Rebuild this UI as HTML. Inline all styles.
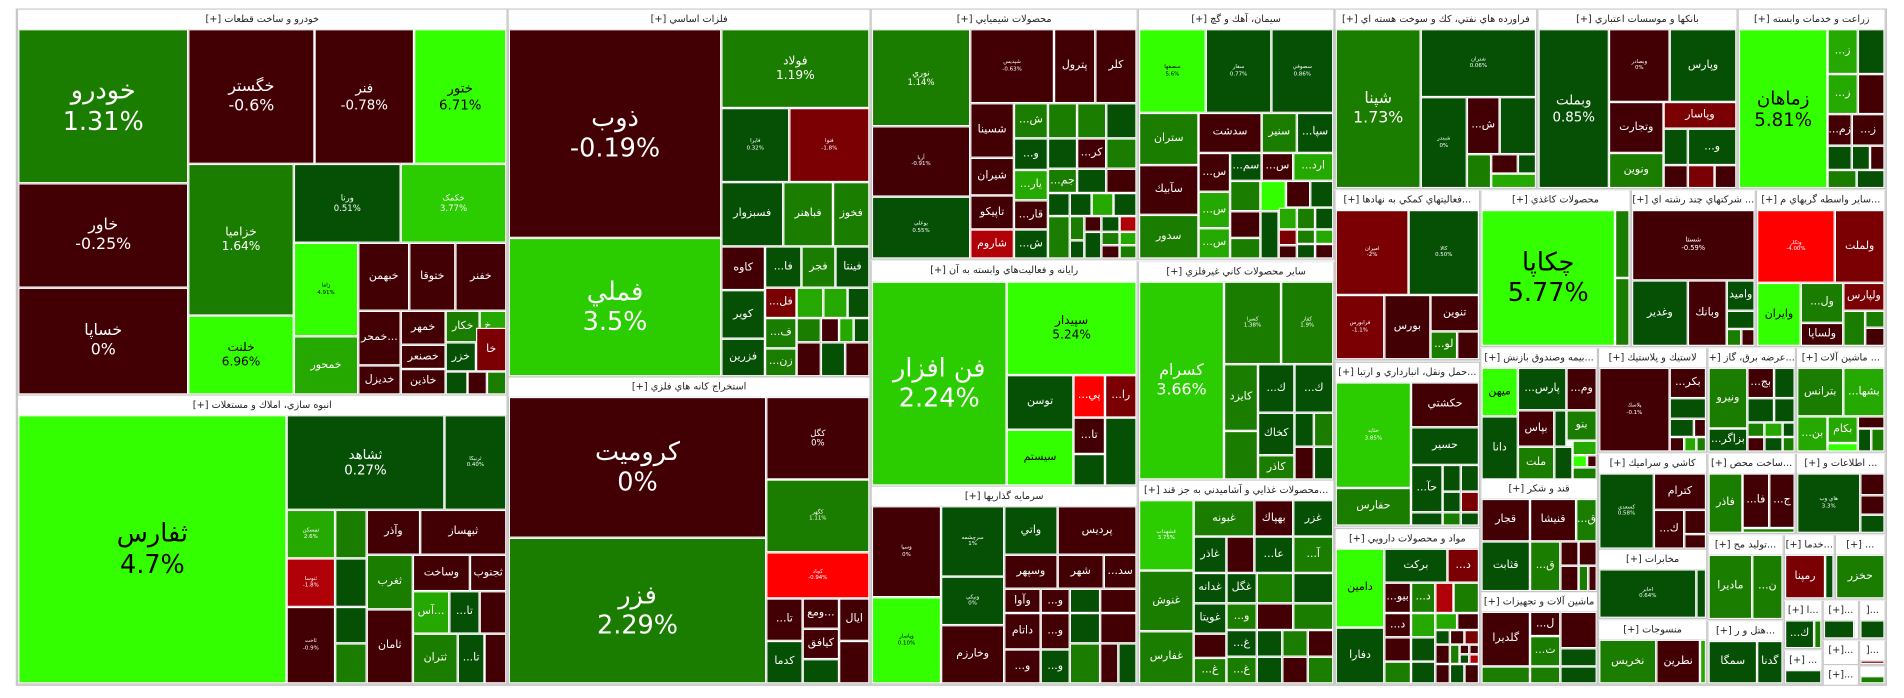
<!DOCTYPE html>
<html><head><meta charset="utf-8">
<style>
html,body{margin:0;padding:0;background:#fff;width:1904px;height:698px;overflow:hidden}
.r{position:absolute;left:0;top:0;width:1568px;height:575px;transform:scale(1.214286,1.2139);transform-origin:0 0;font-family:"DejaVu Sans","Liberation Sans",sans-serif}
.t{position:absolute;box-sizing:border-box;border:1px solid #fff;display:flex;align-items:center;justify-content:center;text-align:center;color:#fff;overflow:hidden;font-size:9px;line-height:1.2;white-space:nowrap}
.h{position:absolute;box-sizing:border-box;background:#fff;color:#222;font-size:8px;text-align:center;line-height:16px;height:16px;overflow:hidden;white-space:nowrap}
.g{position:absolute;box-sizing:border-box;border:1px solid #c8c8c8;background:#fff}
.s{font-size:4.5px}
.b{font-size:21px}
.m{font-size:13px}
.DR{background:#430004}.DG{background:#055005}.G{background:#1b7d00}.MG{background:#25a800}.LG{background:#2bcc00}.BG{background:#33ff00;color:#000}.R{background:#7a0004}.RR{background:#b00008}.BR{background:#ff0000}
</style></head><body><div class="r">
<div class="g" style="left:13px;top:7px;width:1541px;height:558px;background:#eee"></div>

<!-- G1 -->
<div class="g" style="left:14px;top:8px;width:404px;height:318px"></div>
<div class="h" dir="rtl" style="left:15px;top:8px;width:402px">خودرو و ساخت قطعات [+]</div>
<div class="t G b" style="left:15px;top:24px;width:140px;height:127px">خودرو<br>1.31%</div>
<div class="t DR m" style="left:15px;top:151px;width:140px;height:86px">خاور<br>-0.25%</div>
<div class="t DR m" style="left:15px;top:237px;width:140px;height:88px">خساپا<br>0%</div>
<div class="t DR m" style="left:155px;top:24px;width:104px;height:111px">خگستر<br>-0.6%</div>
<div class="t DR" style="left:259px;top:24px;width:82px;height:111px;font-size:11px">فنر<br>-0.78%</div>
<div class="t BG" style="left:341px;top:24px;width:76px;height:111px;font-size:11px">ختور<br>6.71%</div>
<div class="t G" style="left:155px;top:135px;width:87px;height:125px;font-size:10px">خزامیا<br>1.64%</div>
<div class="t DG" style="left:242px;top:135px;width:88px;height:65px;font-size:7px">ورنا<br>0.51%</div>
<div class="t LG" style="left:330px;top:135px;width:87px;height:65px;font-size:7px">خکمک<br>3.77%</div>
<div class="t BG" style="left:155px;top:260px;width:87px;height:65px;font-size:10px">خلنت<br>6.96%</div>
<div class="t BG s" style="left:242px;top:200px;width:53px;height:77px">زاما<br>4.91%</div>
<div class="t MG" style="left:242px;top:277px;width:53px;height:48px">خمحور</div>
<div class="t DR" style="left:295px;top:200px;width:42px;height:56px">خبهمن</div>
<div class="t DR" style="left:337px;top:200px;width:38px;height:56px">ختوقا</div>
<div class="t DR" style="left:375px;top:200px;width:42px;height:56px">خفنر</div>
<div class="t DR" style="left:295px;top:256px;width:35px;height:45px">خمحر...</div>
<div class="t DR" style="left:330px;top:256px;width:37px;height:28px">خمهر</div>
<div class="t G" style="left:367px;top:256px;width:28px;height:26px">خكار</div>
<div class="t MG" style="left:395px;top:256px;width:22px;height:26px">خ...</div>
<div class="t DR" style="left:330px;top:284px;width:37px;height:20px">خصنعر</div>
<div class="t DG" style="left:367px;top:282px;width:25px;height:24px">خزر</div>
<div class="t R" style="left:392px;top:270px;width:25px;height:36px">خا</div>
<div class="t DR" style="left:295px;top:301px;width:35px;height:24px">خديزل</div>
<div class="t DR" style="left:330px;top:304px;width:37px;height:21px">خاذين</div>
<div class="t DG" style="left:367px;top:306px;width:18px;height:19px"></div>
<div class="t DR" style="left:385px;top:306px;width:16px;height:19px"></div>
<div class="t G" style="left:401px;top:306px;width:16px;height:19px"></div>

<!-- G2 -->
<div class="g" style="left:14px;top:326px;width:404px;height:238px"></div>
<div class="h" dir="rtl" style="left:15px;top:326px;width:402px">انبوه سازي، املاك و مستغلات [+]</div>
<div class="t BG b" style="left:15px;top:342px;width:221px;height:221px">ثفارس<br>4.7%</div>
<div class="t DG" style="left:236px;top:342px;width:130px;height:78px;font-size:11px">ثشاهد<br>0.27%</div>
<div class="t DG s" style="left:366px;top:342px;width:51px;height:78px">ثرنيكا<br>0.40%</div>
<div class="t MG s" style="left:236px;top:420px;width:40px;height:40px">ثمسكن<br>2.6%</div>
<div class="t G" style="left:276px;top:420px;width:26px;height:40px"></div>
<div class="t RR s" style="left:236px;top:460px;width:40px;height:40px">ثنوسا<br>-1.8%</div>
<div class="t DG" style="left:276px;top:460px;width:26px;height:40px"></div>
<div class="t DR s" style="left:236px;top:500px;width:40px;height:63px">ثاخت<br>-0.9%</div>
<div class="t DG" style="left:276px;top:500px;width:26px;height:30px"></div>
<div class="t G" style="left:276px;top:530px;width:26px;height:33px"></div>
<div class="t DR" style="left:302px;top:420px;width:44px;height:37px">وآذر</div>
<div class="t DR" style="left:346px;top:420px;width:71px;height:37px">ثبهساز</div>
<div class="t G" style="left:302px;top:457px;width:38px;height:45px">ثغرب</div>
<div class="t DR" style="left:340px;top:457px;width:47px;height:30px">وساخت</div>
<div class="t DR" style="left:387px;top:457px;width:30px;height:30px">ثجنوب</div>
<div class="t DR" style="left:302px;top:502px;width:38px;height:61px">ثامان</div>
<div class="t MG" style="left:340px;top:487px;width:30px;height:35px">آس...</div>
<div class="t DG" style="left:370px;top:487px;width:25px;height:35px">...تا</div>
<div class="t DR" style="left:395px;top:487px;width:22px;height:35px"></div>
<div class="t G" style="left:340px;top:522px;width:37px;height:41px">ثتران</div>
<div class="t DG" style="left:377px;top:522px;width:22px;height:41px">...تا</div>
<div class="t DR" style="left:399px;top:522px;width:18px;height:41px"></div>

<!-- G3 -->
<div class="g" style="left:418px;top:8px;width:299px;height:303px"></div>
<div class="h" dir="rtl" style="left:419px;top:8px;width:297px">فلزات اساسي [+]</div>
<div class="t DR b" style="left:419px;top:24px;width:175px;height:172px">ذوب<br>-0.19%</div>
<div class="t LG b" style="left:419px;top:196px;width:175px;height:114px">فملي<br>3.5%</div>
<div class="t G" style="left:594px;top:24px;width:122px;height:65px;font-size:10px">فولاد<br>1.19%</div>
<div class="t DG s" style="left:594px;top:89px;width:56px;height:61px">فايرا<br>0.32%</div>
<div class="t R s" style="left:650px;top:89px;width:66px;height:61px">فنوا<br>-1.8%</div>
<div class="t DG" style="left:594px;top:150px;width:51px;height:53px">فسبزوار</div>
<div class="t G" style="left:645px;top:150px;width:41px;height:53px">فباهنر</div>
<div class="t G" style="left:686px;top:150px;width:30px;height:53px">فخوز</div>
<div class="t DR" style="left:594px;top:203px;width:36px;height:36px">كاوه</div>
<div class="t DG" style="left:594px;top:239px;width:36px;height:40px">كوير</div>
<div class="t DG" style="left:594px;top:279px;width:36px;height:31px">فزرين</div>
<div class="t DG" style="left:630px;top:203px;width:30px;height:34px">...فا</div>
<div class="t G" style="left:660px;top:203px;width:28px;height:34px">فجر</div>
<div class="t DG" style="left:688px;top:203px;width:28px;height:34px">فينتا</div>
<div class="t R" style="left:630px;top:237px;width:26px;height:25px">...فل</div>
<div class="t MG" style="left:656px;top:237px;width:22px;height:25px"></div>
<div class="t MG" style="left:678px;top:237px;width:20px;height:25px"></div>
<div class="t DG" style="left:698px;top:237px;width:18px;height:25px"></div>
<div class="t G" style="left:630px;top:262px;width:26px;height:25px">...ف</div>
<div class="t G" style="left:656px;top:262px;width:20px;height:20px"></div>
<div class="t DR" style="left:676px;top:262px;width:15px;height:20px"></div>
<div class="t MG" style="left:691px;top:262px;width:12px;height:20px"></div>
<div class="t DG" style="left:703px;top:262px;width:13px;height:20px"></div>
<div class="t G" style="left:630px;top:287px;width:26px;height:23px">...زن</div>
<div class="t DR" style="left:656px;top:282px;width:20px;height:28px"></div>
<div class="t DG" style="left:676px;top:282px;width:20px;height:28px"></div>
<div class="t DR" style="left:696px;top:282px;width:20px;height:28px"></div>

<!-- G4 -->
<div class="g" style="left:418px;top:311px;width:299px;height:253px"></div>
<div class="h" dir="rtl" style="left:419px;top:311px;width:297px">استخراج كانه هاي فلزي [+]</div>
<div class="t DR b" style="left:419px;top:327px;width:212px;height:116px">كروميت<br>0%</div>
<div class="t G b" style="left:419px;top:443px;width:212px;height:120px">فزر<br>2.29%</div>
<div class="t DR" style="left:631px;top:327px;width:85px;height:68px;font-size:7px">كگل<br>0%</div>
<div class="t G s" style="left:631px;top:395px;width:85px;height:60px">كگهر<br>1.11%</div>
<div class="t BR s" style="left:631px;top:455px;width:85px;height:38px">كچاد<br>-0.94%</div>
<div class="t DR" style="left:631px;top:493px;width:30px;height:35px">...تا</div>
<div class="t DR" style="left:661px;top:493px;width:30px;height:25px">ومع...</div>
<div class="t DR" style="left:691px;top:493px;width:25px;height:35px">ايال</div>
<div class="t DR" style="left:661px;top:518px;width:30px;height:25px">كيافق</div>
<div class="t DG" style="left:631px;top:528px;width:30px;height:35px">كدما</div>
<div class="t DG" style="left:661px;top:543px;width:30px;height:20px"></div>
<div class="t DR" style="left:691px;top:528px;width:25px;height:35px"></div>

<!-- G5 -->
<div class="g" style="left:717px;top:8px;width:220px;height:206px"></div>
<div class="h" dir="rtl" style="left:718px;top:8px;width:218px">محصولات شيميايي [+]</div>
<div class="t G" style="left:718px;top:24px;width:81px;height:80px;font-size:7px">نوري<br>1.14%</div>
<div class="t DR s" style="left:718px;top:104px;width:81px;height:58px">آريا<br>-0.91%</div>
<div class="t DG s" style="left:718px;top:162px;width:81px;height:51px">بوعلي<br>0.55%</div>
<div class="t DR s" style="left:799px;top:24px;width:69px;height:61px">شپديس<br>-0.63%</div>
<div class="t DR" style="left:868px;top:24px;width:34px;height:61px">پترول</div>
<div class="t DR" style="left:902px;top:24px;width:34px;height:61px">كلر</div>
<div class="t DR" style="left:799px;top:85px;width:36px;height:45px">شسينا</div>
<div class="t DR" style="left:799px;top:130px;width:36px;height:31px">شيران</div>
<div class="t DR" style="left:799px;top:161px;width:36px;height:28px">تاپيكو</div>
<div class="t RR" style="left:799px;top:189px;width:36px;height:24px">شاروم</div>
<div class="t G" style="left:835px;top:85px;width:28px;height:29px">...ش</div>
<div class="t DG" style="left:835px;top:114px;width:28px;height:26px">...و</div>
<div class="t MG" style="left:835px;top:140px;width:28px;height:25px">...يار</div>
<div class="t DR" style="left:835px;top:165px;width:28px;height:24px">...قار</div>
<div class="t DG" style="left:835px;top:189px;width:28px;height:24px">...ش</div>
<div class="t G" style="left:863px;top:85px;width:24px;height:29px"></div>
<div class="t G" style="left:887px;top:85px;width:24px;height:29px"></div>
<div class="t DG" style="left:911px;top:85px;width:25px;height:29px"></div>
<div class="t DG" style="left:863px;top:114px;width:24px;height:25px"></div>
<div class="t DR" style="left:887px;top:114px;width:24px;height:25px">...كر</div>
<div class="t G" style="left:911px;top:114px;width:25px;height:25px"></div>
<div class="t G" style="left:863px;top:139px;width:24px;height:20px">...جم</div>
<div class="t DG" style="left:887px;top:139px;width:24px;height:20px"></div>
<div class="t DR" style="left:911px;top:139px;width:25px;height:20px"></div>
<div class="t DG" style="left:863px;top:159px;width:18px;height:19px"></div>
<div class="t DG" style="left:881px;top:159px;width:18px;height:19px"></div>
<div class="t MG" style="left:899px;top:159px;width:18px;height:19px"></div>
<div class="t DG" style="left:917px;top:159px;width:19px;height:19px"></div>
<div class="t G" style="left:863px;top:178px;width:18px;height:35px"></div>
<div class="t G" style="left:881px;top:178px;width:12px;height:20px"></div>
<div class="t DR" style="left:893px;top:178px;width:14px;height:13px"></div>
<div class="t DG" style="left:907px;top:178px;width:15px;height:13px"></div>
<div class="t RR" style="left:922px;top:178px;width:14px;height:13px"></div>
<div class="t DG" style="left:893px;top:191px;width:14px;height:22px"></div>
<div class="t G" style="left:907px;top:191px;width:15px;height:11px"></div>
<div class="t MG" style="left:922px;top:191px;width:14px;height:11px"></div>
<div class="t DG" style="left:881px;top:198px;width:12px;height:15px"></div>
<div class="t DR" style="left:907px;top:202px;width:15px;height:11px"></div>
<div class="t G" style="left:922px;top:202px;width:14px;height:11px"></div>

<!-- G6 -->
<div class="g" style="left:717px;top:215px;width:220px;height:186px"></div>
<div class="h" dir="rtl" style="left:718px;top:215px;width:218px;height:17px">رايانه و فعاليت‌هاي وابسته به آن [+]</div>
<div class="t LG b" style="left:718px;top:232px;width:111px;height:168px">فن افزار<br>2.24%</div>
<div class="t BG" style="left:829px;top:232px;width:107px;height:77px;font-size:10px">سپيدار<br>5.24%</div>
<div class="t DG" style="left:829px;top:309px;width:55px;height:45px">توسن</div>
<div class="t BR" style="left:884px;top:309px;width:26px;height:35px">...پي</div>
<div class="t R" style="left:910px;top:309px;width:26px;height:35px">...را</div>
<div class="t BG" style="left:829px;top:354px;width:55px;height:46px">سيستم</div>
<div class="t DR" style="left:884px;top:344px;width:26px;height:30px">...تا</div>
<div class="t DG" style="left:884px;top:374px;width:26px;height:26px"></div>
<div class="t DG" style="left:910px;top:344px;width:26px;height:56px"></div>

<!-- G7 -->
<div class="g" style="left:717px;top:401px;width:220px;height:163px"></div>
<div class="h" dir="rtl" style="left:718px;top:401px;width:218px">سرمايه گذاريها [+]</div>
<div class="t DR s" style="left:718px;top:417px;width:57px;height:75px">وسپا<br>0%</div>
<div class="t BG s" style="left:718px;top:492px;width:57px;height:71px">وپاسار<br>0.10%</div>
<div class="t DG s" style="left:775px;top:417px;width:52px;height:58px">سرچشمه<br>1%</div>
<div class="t DG s" style="left:775px;top:475px;width:52px;height:40px">ونيكي<br>0%</div>
<div class="t DR" style="left:775px;top:515px;width:52px;height:48px">وخارزم</div>
<div class="t DG" style="left:827px;top:417px;width:44px;height:40px">واتي</div>
<div class="t DR" style="left:871px;top:417px;width:65px;height:40px">پرديس</div>
<div class="t DR" style="left:827px;top:457px;width:44px;height:28px">وسپهر</div>
<div class="t DR" style="left:871px;top:457px;width:38px;height:28px">شهر</div>
<div class="t DR" style="left:909px;top:457px;width:27px;height:28px">...سد</div>
<div class="t DR" style="left:827px;top:485px;width:30px;height:20px">وآوا</div>
<div class="t DR" style="left:857px;top:485px;width:24px;height:20px">...و</div>
<div class="t DG" style="left:881px;top:485px;width:25px;height:20px"></div>
<div class="t DR" style="left:906px;top:485px;width:30px;height:20px"></div>
<div class="t DR" style="left:827px;top:505px;width:30px;height:30px">داتام</div>
<div class="t DR" style="left:827px;top:535px;width:30px;height:28px">...و</div>
<div class="t DR" style="left:857px;top:505px;width:24px;height:30px">...و</div>
<div class="t DG" style="left:857px;top:535px;width:24px;height:28px">...و</div>
<div class="t DG" style="left:881px;top:505px;width:25px;height:25px"></div>
<div class="t DR" style="left:906px;top:505px;width:30px;height:25px"></div>
<div class="t G" style="left:881px;top:530px;width:25px;height:33px"></div>
<div class="t DR" style="left:906px;top:530px;width:15px;height:33px"></div>
<div class="t DG" style="left:921px;top:530px;width:15px;height:33px"></div>

<!-- G8 -->
<div class="g" style="left:937px;top:8px;width:162px;height:206px"></div>
<div class="h" dir="rtl" style="left:938px;top:8px;width:160px">سيمان، آهك و گچ [+]</div>
<div class="t BG s" style="left:938px;top:24px;width:55px;height:69px">سصفها<br>5.6%</div>
<div class="t DG s" style="left:993px;top:24px;width:54px;height:69px">سفار<br>0.77%</div>
<div class="t DG s" style="left:1047px;top:24px;width:51px;height:69px">سصوفي<br>0.86%</div>
<div class="t G" style="left:938px;top:93px;width:49px;height:43px">ستران</div>
<div class="t DR" style="left:938px;top:136px;width:49px;height:41px">سآبيك</div>
<div class="t G" style="left:938px;top:177px;width:49px;height:36px">سدور</div>
<div class="t DR" style="left:987px;top:93px;width:52px;height:33px">سدشت</div>
<div class="t G" style="left:1039px;top:93px;width:29px;height:33px">سنير</div>
<div class="t DG" style="left:1068px;top:93px;width:30px;height:33px">...سپا</div>
<div class="t DR" style="left:987px;top:126px;width:26px;height:32px">...س</div>
<div class="t DG" style="left:1013px;top:126px;width:26px;height:23px">...سم</div>
<div class="t DR" style="left:1039px;top:126px;width:26px;height:23px">...س</div>
<div class="t MG" style="left:1065px;top:126px;width:33px;height:23px">...ارد</div>
<div class="t MG" style="left:987px;top:158px;width:26px;height:30px">...س</div>
<div class="t MG" style="left:987px;top:188px;width:26px;height:25px">...س</div>
<div class="t G" style="left:1013px;top:149px;width:25px;height:25px"></div>
<div class="t BG" style="left:1038px;top:149px;width:21px;height:25px"></div>
<div class="t DR" style="left:1059px;top:149px;width:20px;height:22px"></div>
<div class="t DG" style="left:1079px;top:149px;width:19px;height:22px"></div>
<div class="t DR" style="left:1013px;top:174px;width:25px;height:22px"></div>
<div class="t G" style="left:1013px;top:196px;width:25px;height:17px"></div>
<div class="t DG" style="left:1038px;top:174px;width:15px;height:39px"></div>
<div class="t MG" style="left:1053px;top:171px;width:15px;height:18px"></div>
<div class="t G" style="left:1068px;top:171px;width:15px;height:18px"></div>
<div class="t DG" style="left:1083px;top:171px;width:15px;height:18px"></div>
<div class="t R" style="left:1053px;top:189px;width:15px;height:13px"></div>
<div class="t DR" style="left:1053px;top:202px;width:15px;height:11px"></div>
<div class="t G" style="left:1068px;top:189px;width:15px;height:12px"></div>
<div class="t MG" style="left:1083px;top:189px;width:15px;height:12px"></div>
<div class="t DG" style="left:1068px;top:201px;width:15px;height:12px"></div>
<div class="t DR" style="left:1083px;top:201px;width:15px;height:12px"></div>

<!-- G9 -->
<div class="g" style="left:937px;top:216px;width:162px;height:180px"></div>
<div class="h" dir="rtl" style="left:938px;top:216px;width:160px">ساير محصولات كاني غيرفلزي [+]</div>
<div class="t LG m" style="left:938px;top:232px;width:70px;height:163px">كسرام<br>3.66%</div>
<div class="t G s" style="left:1008px;top:232px;width:47px;height:68px">كسرا<br>1.38%</div>
<div class="t G s" style="left:1055px;top:232px;width:43px;height:68px">كفار<br>1.9%</div>
<div class="t G" style="left:1008px;top:300px;width:28px;height:55px">كايزد</div>
<div class="t DG" style="left:1036px;top:300px;width:30px;height:40px">...ك</div>
<div class="t DG" style="left:1066px;top:300px;width:32px;height:40px">...ك</div>
<div class="t DG" style="left:1036px;top:340px;width:30px;height:35px">كخاك</div>
<div class="t G" style="left:1036px;top:375px;width:30px;height:20px">كاذر</div>
<div class="t G" style="left:1008px;top:355px;width:28px;height:40px"></div>
<div class="t DG" style="left:1066px;top:340px;width:16px;height:28px"></div>
<div class="t G" style="left:1082px;top:340px;width:16px;height:28px"></div>
<div class="t DR" style="left:1066px;top:368px;width:16px;height:27px"></div>
<div class="t DG" style="left:1082px;top:368px;width:16px;height:27px"></div>

<!-- G10 -->
<div class="g" style="left:937px;top:396px;width:162px;height:168px"></div>
<div class="h" dir="rtl" style="left:938px;top:396px;width:160px">...محصولات غذايي و آشاميدني به جز قند [+]</div>
<div class="t LG s" style="left:938px;top:412px;width:45px;height:58px">غشهداب<br>3.75%</div>
<div class="t G" style="left:938px;top:470px;width:45px;height:50px">غنوش</div>
<div class="t G" style="left:938px;top:520px;width:45px;height:43px">غفارس</div>
<div class="t G" style="left:983px;top:412px;width:50px;height:30px">غبونه</div>
<div class="t DR" style="left:1033px;top:412px;width:32px;height:30px">بهپاك</div>
<div class="t DG" style="left:1065px;top:412px;width:33px;height:30px">غزر</div>
<div class="t DG" style="left:983px;top:442px;width:27px;height:30px">غاذر</div>
<div class="t DR" style="left:1010px;top:442px;width:23px;height:30px"></div>
<div class="t DG" style="left:1033px;top:442px;width:32px;height:30px">...عا</div>
<div class="t G" style="left:1065px;top:442px;width:33px;height:30px">...آ</div>
<div class="t DG" style="left:983px;top:472px;width:27px;height:25px">غدانه</div>
<div class="t DG" style="left:1010px;top:472px;width:25px;height:25px">غگل</div>
<div class="t G" style="left:1035px;top:472px;width:30px;height:25px"></div>
<div class="t DG" style="left:1065px;top:472px;width:33px;height:25px"></div>
<div class="t DG" style="left:983px;top:497px;width:27px;height:25px">غويتا</div>
<div class="t G" style="left:1010px;top:497px;width:25px;height:22px">...و</div>
<div class="t DR" style="left:1035px;top:497px;width:30px;height:22px"></div>
<div class="t G" style="left:1065px;top:497px;width:33px;height:22px"></div>
<div class="t DR" style="left:983px;top:522px;width:27px;height:20px"></div>
<div class="t G" style="left:983px;top:542px;width:27px;height:21px">...غ</div>
<div class="t DG" style="left:1010px;top:519px;width:25px;height:22px">...غ</div>
<div class="t G" style="left:1010px;top:541px;width:25px;height:22px">...غ</div>
<div class="t DG" style="left:1035px;top:519px;width:21px;height:22px"></div>
<div class="t G" style="left:1056px;top:519px;width:21px;height:22px"></div>
<div class="t DR" style="left:1077px;top:519px;width:21px;height:22px"></div>
<div class="t DG" style="left:1035px;top:541px;width:21px;height:22px"></div>
<div class="t DR" style="left:1056px;top:541px;width:21px;height:22px"></div>
<div class="t G" style="left:1077px;top:541px;width:21px;height:22px"></div>

<!-- G11 -->
<div class="g" style="left:1099px;top:8px;width:167px;height:148px"></div>
<div class="h" dir="rtl" style="left:1100px;top:8px;width:165px">فراورده هاي نفتي، كك و سوخت هسته اي [+]</div>
<div class="t G m" style="left:1100px;top:24px;width:70px;height:131px">شپنا<br>1.73%</div>
<div class="t DG s" style="left:1170px;top:24px;width:95px;height:56px">شتران<br>0.06%</div>
<div class="t DG s" style="left:1170px;top:80px;width:38px;height:75px">شبندر<br>0%</div>
<div class="t DR" style="left:1208px;top:80px;width:27px;height:47px">...ش</div>
<div class="t DG" style="left:1235px;top:80px;width:30px;height:47px"></div>
<div class="t G" style="left:1208px;top:127px;width:20px;height:28px"></div>
<div class="t DR" style="left:1228px;top:127px;width:22px;height:16px"></div>
<div class="t DG" style="left:1250px;top:127px;width:15px;height:16px"></div>
<div class="t MG" style="left:1228px;top:143px;width:37px;height:12px"></div>

<!-- G12 -->
<div class="g" style="left:1266px;top:8px;width:165px;height:148px"></div>
<div class="h" dir="rtl" style="left:1267px;top:8px;width:163px">بانكها و موسسات اعتباري [+]</div>
<div class="t DG" style="left:1267px;top:24px;width:58px;height:131px;font-size:11px">وبملت<br>0.85%</div>
<div class="t DR s" style="left:1325px;top:24px;width:50px;height:60px">وبصادر<br>0%</div>
<div class="t DG" style="left:1375px;top:24px;width:55px;height:60px">وپارس</div>
<div class="t DR" style="left:1325px;top:84px;width:45px;height:42px">وتجارت</div>
<div class="t G" style="left:1325px;top:126px;width:45px;height:29px">ونوين</div>
<div class="t R" style="left:1370px;top:84px;width:60px;height:22px">وپاسار</div>
<div class="t DG" style="left:1370px;top:106px;width:20px;height:30px"></div>
<div class="t DG" style="left:1390px;top:106px;width:40px;height:30px">...و</div>
<div class="t DR" style="left:1370px;top:136px;width:20px;height:19px"></div>
<div class="t R" style="left:1390px;top:136px;width:22px;height:19px"></div>
<div class="t DR" style="left:1412px;top:136px;width:18px;height:19px"></div>

<!-- G13 -->
<div class="g" style="left:1431px;top:8px;width:122px;height:148px"></div>
<div class="h" dir="rtl" style="left:1432px;top:8px;width:120px">زراعت و خدمات وابسته [+]</div>
<div class="t BG m" style="left:1432px;top:24px;width:73px;height:131px;font-size:15px">زماهان<br>5.81%</div>
<div class="t MG" style="left:1505px;top:24px;width:25px;height:37px">...ز</div>
<div class="t DG" style="left:1530px;top:24px;width:22px;height:37px"></div>
<div class="t MG" style="left:1505px;top:61px;width:25px;height:33px">...ز</div>
<div class="t DR" style="left:1530px;top:61px;width:22px;height:33px"></div>
<div class="t DR" style="left:1505px;top:94px;width:20px;height:26px">...زم</div>
<div class="t DR" style="left:1525px;top:94px;width:27px;height:26px">...ز</div>
<div class="t DG" style="left:1505px;top:120px;width:20px;height:20px"></div>
<div class="t DG" style="left:1525px;top:120px;width:15px;height:20px"></div>
<div class="t DR" style="left:1540px;top:120px;width:12px;height:20px"></div>
<div class="t G" style="left:1505px;top:140px;width:24px;height:15px"></div>
<div class="t DG" style="left:1529px;top:140px;width:23px;height:15px"></div>

<!-- G14 -->
<div class="g" style="left:1099px;top:157px;width:120px;height:140px"></div>
<div class="h" dir="rtl" style="left:1100px;top:157px;width:118px">...فعاليتهاي كمكي به نهادها [+]</div>
<div class="t R s" style="left:1100px;top:173px;width:60px;height:70px">اميران<br>-2%</div>
<div class="t DG s" style="left:1160px;top:173px;width:58px;height:70px">كالا<br>0.50%</div>
<div class="t R s" style="left:1100px;top:243px;width:40px;height:53px">فرابورس<br>-1.1%</div>
<div class="t DR" style="left:1140px;top:243px;width:38px;height:53px">بورس</div>
<div class="t DR" style="left:1178px;top:243px;width:40px;height:30px">تنوين</div>
<div class="t G" style="left:1178px;top:273px;width:22px;height:23px">...لو</div>
<div class="t DR" style="left:1200px;top:273px;width:18px;height:23px"></div>

<!-- G15 -->
<div class="g" style="left:1219px;top:157px;width:124px;height:129px"></div>
<div class="h" dir="rtl" style="left:1220px;top:157px;width:122px">محصولات كاغذي [+]</div>
<div class="t BG b" style="left:1220px;top:173px;width:110px;height:112px">چكاپا<br>5.77%</div>
<div class="t G" style="left:1330px;top:173px;width:12px;height:56px"></div>
<div class="t G" style="left:1330px;top:229px;width:12px;height:56px"></div>

<!-- G16 -->
<div class="g" style="left:1343px;top:157px;width:103px;height:129px"></div>
<div class="h" dir="rtl" style="left:1344px;top:157px;width:101px">... شركتهاي چند رشته اي [+]</div>
<div class="t DR" style="left:1344px;top:173px;width:101px;height:58px;font-size:5.5px">شستا<br>-0.59%</div>
<div class="t DG" style="left:1344px;top:231px;width:46px;height:54px">وغدير</div>
<div class="t DR" style="left:1390px;top:231px;width:32px;height:54px">وبانك</div>
<div class="t DG" style="left:1422px;top:231px;width:23px;height:25px">واميد</div>
<div class="t DG" style="left:1422px;top:256px;width:23px;height:15px"></div>
<div class="t G" style="left:1422px;top:271px;width:12px;height:14px"></div>
<div class="t DR" style="left:1434px;top:271px;width:11px;height:14px"></div>

<!-- G17 -->
<div class="g" style="left:1446px;top:157px;width:107px;height:129px"></div>
<div class="h" dir="rtl" style="left:1447px;top:157px;width:105px">...ساير واسطه گريهاي م [+]</div>
<div class="t BR s" style="left:1447px;top:173px;width:64px;height:60px">وتكار<br>-4.00%</div>
<div class="t R" style="left:1511px;top:173px;width:41px;height:60px">ولملت</div>
<div class="t BG" style="left:1447px;top:233px;width:36px;height:52px">وايران</div>
<div class="t G" style="left:1483px;top:233px;width:35px;height:33px">...ول</div>
<div class="t R" style="left:1518px;top:233px;width:34px;height:23px">ولپارس</div>
<div class="t DR" style="left:1483px;top:266px;width:35px;height:19px">ولساپا</div>
<div class="t G" style="left:1518px;top:256px;width:18px;height:29px"></div>
<div class="t G" style="left:1536px;top:256px;width:16px;height:14px"></div>
<div class="t DR" style="left:1536px;top:270px;width:16px;height:15px"></div>

<!-- G18 -->
<div class="g" style="left:1099px;top:298px;width:120px;height:136px"></div>
<div class="h" dir="rtl" style="left:1100px;top:299px;width:118px">...حمل ونقل، انبارداري و ارتبا [+]</div>
<div class="t LG s" style="left:1100px;top:315px;width:62px;height:87px">حتايد<br>3.85%</div>
<div class="t G" style="left:1100px;top:402px;width:62px;height:31px">حفارس</div>
<div class="t DR" style="left:1162px;top:315px;width:56px;height:37px">حكشتي</div>
<div class="t DG" style="left:1162px;top:352px;width:56px;height:31px">حسير</div>
<div class="t DG" style="left:1162px;top:383px;width:26px;height:39px">...حآ</div>
<div class="t DG" style="left:1188px;top:383px;width:15px;height:22px"></div>
<div class="t DG" style="left:1203px;top:383px;width:15px;height:22px"></div>
<div class="t DG" style="left:1188px;top:405px;width:15px;height:17px"></div>
<div class="t R" style="left:1203px;top:405px;width:15px;height:17px"></div>
<div class="t DG" style="left:1162px;top:422px;width:26px;height:11px"></div>
<div class="t G" style="left:1188px;top:422px;width:15px;height:11px"></div>
<div class="t DG" style="left:1203px;top:422px;width:15px;height:11px"></div>

<!-- G19 -->
<div class="g" style="left:1099px;top:435px;width:120px;height:129px"></div>
<div class="h" dir="rtl" style="left:1100px;top:436px;width:118px">مواد و محصولات دارويي [+]</div>
<div class="t BG" style="left:1100px;top:452px;width:40px;height:65px">دامين</div>
<div class="t DG" style="left:1100px;top:517px;width:40px;height:46px">دفارا</div>
<div class="t DG" style="left:1140px;top:452px;width:52px;height:28px">بركت</div>
<div class="t R" style="left:1192px;top:452px;width:26px;height:28px">...د</div>
<div class="t DR" style="left:1140px;top:480px;width:22px;height:25px">...بيو</div>
<div class="t G" style="left:1162px;top:480px;width:20px;height:25px">...د</div>
<div class="t RR" style="left:1182px;top:480px;width:15px;height:25px"></div>
<div class="t G" style="left:1197px;top:480px;width:21px;height:25px"></div>
<div class="t DR" style="left:1140px;top:505px;width:22px;height:20px">...د</div>
<div class="t MG" style="left:1162px;top:505px;width:20px;height:20px"></div>
<div class="t MG" style="left:1182px;top:505px;width:18px;height:14px"></div>
<div class="t DR" style="left:1200px;top:505px;width:18px;height:14px"></div>
<div class="t DR" style="left:1140px;top:525px;width:22px;height:20px"></div>
<div class="t G" style="left:1140px;top:545px;width:22px;height:18px"></div>
<div class="t DG" style="left:1162px;top:525px;width:20px;height:20px"></div>
<div class="t DG" style="left:1162px;top:545px;width:20px;height:18px"></div>
<div class="t DG" style="left:1182px;top:519px;width:12px;height:12px"></div>
<div class="t DR" style="left:1194px;top:519px;width:12px;height:12px"></div>
<div class="t R" style="left:1206px;top:519px;width:12px;height:12px"></div>
<div class="t DR" style="left:1182px;top:531px;width:12px;height:16px"></div>
<div class="t G" style="left:1194px;top:531px;width:8px;height:16px"></div>
<div class="t DR" style="left:1202px;top:531px;width:8px;height:8px"></div>
<div class="t DR" style="left:1210px;top:531px;width:8px;height:8px"></div>
<div class="t DG" style="left:1202px;top:539px;width:8px;height:8px"></div>
<div class="t RR" style="left:1210px;top:539px;width:8px;height:8px"></div>
<div class="t DR" style="left:1182px;top:547px;width:12px;height:16px"></div>
<div class="t DG" style="left:1194px;top:547px;width:12px;height:16px"></div>
<div class="t DR" style="left:1206px;top:547px;width:12px;height:16px"></div>

<!-- G20 -->
<div class="g" style="left:1219px;top:287px;width:97px;height:109px"></div>
<div class="h" dir="rtl" style="left:1220px;top:287px;width:95px">...بيمه وصندوق بازنش [+]</div>
<div class="t BG" style="left:1220px;top:303px;width:30px;height:40px">ميهن</div>
<div class="t DG" style="left:1220px;top:343px;width:30px;height:52px">دانا</div>
<div class="t DG" style="left:1250px;top:303px;width:40px;height:35px">...پارس</div>
<div class="t DR" style="left:1290px;top:303px;width:25px;height:35px">...وم</div>
<div class="t DR" style="left:1250px;top:338px;width:30px;height:30px">بپاس</div>
<div class="t DG" style="left:1280px;top:338px;width:10px;height:30px"></div>
<div class="t G" style="left:1290px;top:338px;width:25px;height:25px">بنو</div>
<div class="t G" style="left:1250px;top:368px;width:30px;height:27px">ملت</div>
<div class="t DG" style="left:1280px;top:368px;width:15px;height:27px"></div>
<div class="t MG" style="left:1295px;top:363px;width:20px;height:12px"></div>
<div class="t BG" style="left:1295px;top:375px;width:12px;height:10px"></div>
<div class="t DR" style="left:1307px;top:375px;width:8px;height:10px"></div>
<div class="t G" style="left:1295px;top:385px;width:20px;height:10px"></div>

<!-- G21 -->
<div class="g" style="left:1219px;top:395px;width:97px;height:93px"></div>
<div class="h" dir="rtl" style="left:1220px;top:395px;width:95px">قند و شكر [+]</div>
<div class="t DR" style="left:1220px;top:411px;width:40px;height:35px">قجار</div>
<div class="t DR" style="left:1260px;top:411px;width:38px;height:35px">قنيشا</div>
<div class="t G" style="left:1298px;top:411px;width:17px;height:35px">...ق</div>
<div class="t DG" style="left:1220px;top:446px;width:40px;height:41px">قثابت</div>
<div class="t G" style="left:1260px;top:446px;width:25px;height:41px">...ق</div>
<div class="t DR" style="left:1285px;top:446px;width:15px;height:20px"></div>
<div class="t DR" style="left:1300px;top:446px;width:15px;height:20px"></div>
<div class="t DR" style="left:1285px;top:466px;width:15px;height:21px"></div>
<div class="t G" style="left:1300px;top:466px;width:8px;height:21px"></div>
<div class="t DR" style="left:1308px;top:466px;width:7px;height:21px"></div>

<!-- G22 -->
<div class="g" style="left:1219px;top:488px;width:97px;height:76px"></div>
<div class="h" dir="rtl" style="left:1220px;top:488px;width:95px">ماشين آلات و تجهيزات [+]</div>
<div class="t DR" style="left:1220px;top:504px;width:40px;height:45px">گلديرا</div>
<div class="t DR" style="left:1260px;top:504px;width:25px;height:20px">...ل</div>
<div class="t G" style="left:1260px;top:524px;width:25px;height:25px">...ت</div>
<div class="t DR" style="left:1285px;top:504px;width:30px;height:30px"></div>
<div class="t DG" style="left:1285px;top:534px;width:30px;height:15px"></div>
<div class="t G" style="left:1220px;top:549px;width:40px;height:14px"></div>
<div class="t G" style="left:1260px;top:549px;width:25px;height:14px"></div>
<div class="t DG" style="left:1285px;top:549px;width:30px;height:14px"></div>

<!-- G23 -->
<div class="g" style="left:1316px;top:287px;width:90px;height:86px"></div>
<div class="h" dir="rtl" style="left:1317px;top:287px;width:88px">لاستيك و پلاستيك [+]</div>
<div class="t DR s" style="left:1317px;top:303px;width:58px;height:69px">پلاسك<br>-0.1%</div>
<div class="t DR" style="left:1375px;top:303px;width:30px;height:25px">...بكر</div>
<div class="t DG" style="left:1375px;top:328px;width:30px;height:17px"></div>
<div class="t DG" style="left:1375px;top:345px;width:20px;height:15px"></div>
<div class="t DR" style="left:1395px;top:345px;width:10px;height:15px"></div>
<div class="t DR" style="left:1375px;top:360px;width:12px;height:12px"></div>
<div class="t MG" style="left:1387px;top:360px;width:10px;height:12px"></div>
<div class="t G" style="left:1397px;top:360px;width:8px;height:12px"></div>

<!-- G24 -->
<div class="g" style="left:1406px;top:287px;width:73px;height:86px"></div>
<div class="h" dir="rtl" style="left:1407px;top:287px;width:71px">...عرضه برق، گاز [+]</div>
<div class="t G" style="left:1407px;top:303px;width:32px;height:50px">ونيرو</div>
<div class="t DG" style="left:1407px;top:353px;width:32px;height:19px">...بزاگر</div>
<div class="t DR" style="left:1439px;top:303px;width:22px;height:25px">...بج</div>
<div class="t DG" style="left:1461px;top:303px;width:17px;height:25px"></div>
<div class="t DG" style="left:1439px;top:328px;width:22px;height:20px"></div>
<div class="t DG" style="left:1461px;top:328px;width:17px;height:20px"></div>
<div class="t G" style="left:1439px;top:348px;width:14px;height:12px"></div>
<div class="t MG" style="left:1453px;top:348px;width:15px;height:12px"></div>
<div class="t DG" style="left:1468px;top:348px;width:10px;height:12px"></div>
<div class="t DR" style="left:1439px;top:360px;width:14px;height:12px"></div>
<div class="t DG" style="left:1453px;top:360px;width:15px;height:12px"></div>
<div class="t G" style="left:1468px;top:360px;width:10px;height:12px"></div>

<!-- G25 -->
<div class="g" style="left:1479px;top:287px;width:74px;height:86px"></div>
<div class="h" dir="rtl" style="left:1480px;top:287px;width:72px">... ماشين آلات [+]</div>
<div class="t G" style="left:1480px;top:303px;width:38px;height:40px">بترانس</div>
<div class="t MG" style="left:1518px;top:303px;width:34px;height:40px">...بشها</div>
<div class="t MG" style="left:1480px;top:343px;width:25px;height:29px">...بن</div>
<div class="t MG" style="left:1505px;top:343px;width:25px;height:22px">بكام</div>
<div class="t BG" style="left:1505px;top:365px;width:25px;height:7px"></div>
<div class="t DR" style="left:1530px;top:343px;width:22px;height:10px"></div>
<div class="t DG" style="left:1530px;top:353px;width:11px;height:19px"></div>
<div class="t G" style="left:1541px;top:353px;width:11px;height:19px"></div>

<!-- G26 -->
<div class="g" style="left:1316px;top:374px;width:90px;height:79px"></div>
<div class="h" dir="rtl" style="left:1317px;top:374px;width:88px">كاشي و سراميك [+]</div>
<div class="t DG s" style="left:1317px;top:390px;width:45px;height:62px">كسعدي<br>0.58%</div>
<div class="t DR" style="left:1362px;top:390px;width:43px;height:30px">كترام</div>
<div class="t DR" style="left:1362px;top:420px;width:25px;height:32px">...ك</div>
<div class="t DR" style="left:1387px;top:420px;width:18px;height:20px"></div>
<div class="t DR" style="left:1387px;top:440px;width:18px;height:12px"></div>

<!-- G27 -->
<div class="g" style="left:1406px;top:374px;width:73px;height:66px"></div>
<div class="h" dir="rtl" style="left:1407px;top:374px;width:71px">...ساخت محص [+]</div>
<div class="t G" style="left:1407px;top:390px;width:28px;height:49px">فاذر</div>
<div class="t DR" style="left:1435px;top:390px;width:22px;height:45px">...فا</div>
<div class="t DR" style="left:1457px;top:390px;width:21px;height:45px">...ج</div>
<div class="t G" style="left:1435px;top:435px;width:43px;height:4px"></div>

<!-- G28 -->
<div class="g" style="left:1479px;top:374px;width:74px;height:66px"></div>
<div class="h" dir="rtl" style="left:1480px;top:374px;width:72px">... اطلاعات و [+]</div>
<div class="t DG s" style="left:1480px;top:390px;width:52px;height:49px">هاي وب<br>3.3%</div>
<div class="t DR" style="left:1532px;top:390px;width:20px;height:18px"></div>
<div class="t DR" style="left:1532px;top:408px;width:20px;height:16px"></div>
<div class="t DG" style="left:1532px;top:424px;width:20px;height:15px"></div>

<!-- G29 -->
<div class="g" style="left:1316px;top:453px;width:90px;height:57px"></div>
<div class="h" dir="rtl" style="left:1317px;top:453px;width:88px">مخابرات [+]</div>
<div class="t DG s" style="left:1317px;top:469px;width:80px;height:40px">اخابر<br>0.64%</div>
<div class="t DG" style="left:1397px;top:469px;width:8px;height:40px"></div>

<!-- G30 -->
<div class="g" style="left:1316px;top:511px;width:90px;height:53px"></div>
<div class="h" dir="rtl" style="left:1317px;top:511px;width:88px">منسوجات [+]</div>
<div class="t G" style="left:1317px;top:527px;width:47px;height:36px">نخريس</div>
<div class="t DR" style="left:1364px;top:527px;width:36px;height:36px">نطرين</div>
<div class="t MG" style="left:1400px;top:527px;width:5px;height:36px"></div>

<!-- G31 -->
<div class="g" style="left:1406px;top:441px;width:63px;height:70px"></div>
<div class="h" dir="rtl" style="left:1407px;top:441px;width:61px">...توليد مح [+]</div>
<div class="t G" style="left:1407px;top:457px;width:36px;height:53px">ماديرا</div>
<div class="t G" style="left:1443px;top:457px;width:25px;height:53px">...ن</div>

<!-- G32 -->
<div class="g" style="left:1406px;top:512px;width:63px;height:52px"></div>
<div class="h" dir="rtl" style="left:1407px;top:512px;width:61px">...هتل و ر [+]</div>
<div class="t DG" style="left:1407px;top:528px;width:40px;height:35px">سمگا</div>
<div class="t DG" style="left:1447px;top:528px;width:21px;height:35px">گدنا</div>

<!-- G33 -->
<div class="g" style="left:1469px;top:441px;width:42px;height:53px"></div>
<div class="h" dir="rtl" style="left:1470px;top:441px;width:40px">...خدما [+]</div>
<div class="t R" style="left:1470px;top:457px;width:33px;height:36px">رمپنا</div>
<div class="t DG" style="left:1503px;top:457px;width:7px;height:36px"></div>
<div class="g" style="left:1511px;top:441px;width:42px;height:53px"></div>
<div class="h" dir="rtl" style="left:1512px;top:441px;width:40px">... [+]</div>
<div class="t G" style="left:1512px;top:457px;width:40px;height:36px">حخزر</div>

<!-- small groups -->
<div class="g" style="left:1469px;top:495px;width:32px;height:40px"></div>
<div class="h" dir="rtl" style="left:1470px;top:495px;width:30px">...ا [+]</div>
<div class="t DG" style="left:1470px;top:511px;width:24px;height:23px">...ك</div>
<div class="t G" style="left:1494px;top:511px;width:6px;height:23px"></div>
<div class="g" style="left:1469px;top:536px;width:32px;height:28px"></div>
<div class="h" dir="rtl" style="left:1470px;top:536px;width:30px">... [+]</div>
<div class="t DG" style="left:1470px;top:552px;width:30px;height:11px"></div>
<div class="g" style="left:1501px;top:495px;width:30px;height:32px"></div>
<div class="h" dir="rtl" style="left:1502px;top:495px;width:28px">...[+]</div>
<div class="t DG" style="left:1502px;top:511px;width:25px;height:15px"></div>
<div class="g" style="left:1531px;top:495px;width:22px;height:32px"></div>
<div class="h" dir="rtl" style="left:1532px;top:495px;width:20px">...[</div>
<div class="t DG" style="left:1532px;top:511px;width:20px;height:15px"></div>
<div class="g" style="left:1501px;top:528px;width:30px;height:20px"></div>
<div class="h" dir="rtl" style="left:1502px;top:528px;width:28px">...[+]</div>
<div class="g" style="left:1501px;top:548px;width:30px;height:16px"></div>
<div class="h" dir="rtl" style="left:1502px;top:548px;width:28px">...[+]</div>
<div class="g" style="left:1531px;top:528px;width:22px;height:20px"></div>
<div class="h" dir="rtl" style="left:1532px;top:528px;width:20px">...[</div>
<div class="t R" style="left:1532px;top:544px;width:20px;height:3px"></div>
<div class="g" style="left:1531px;top:548px;width:22px;height:16px"></div>
<div class="t G" style="left:1532px;top:557px;width:20px;height:6px"></div>
</div></body></html>
